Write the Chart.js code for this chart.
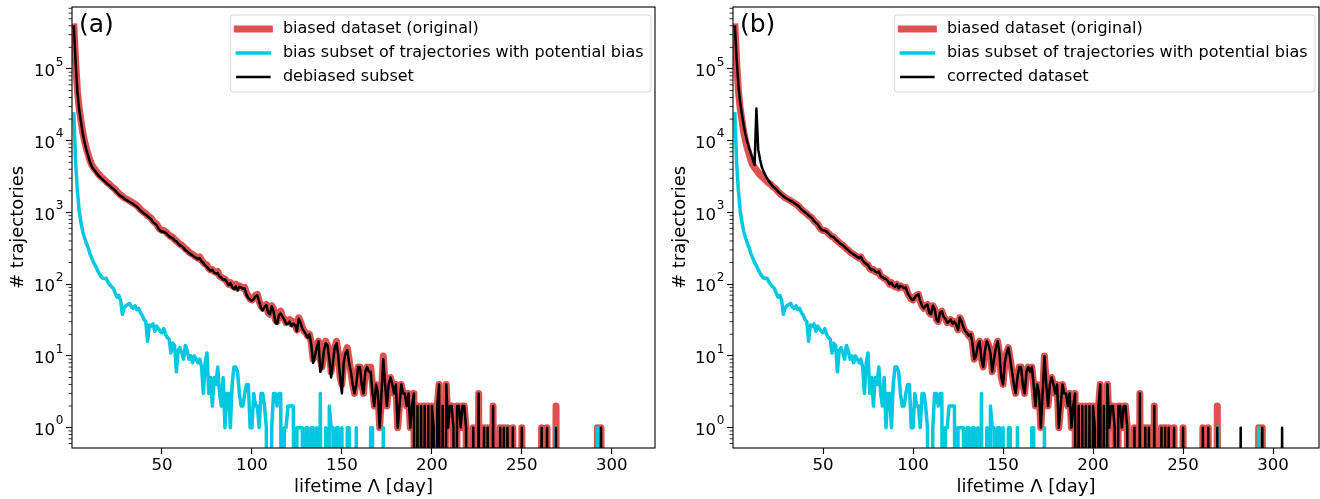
<!DOCTYPE html>
<html>
<head>
<meta charset="utf-8">
<script src="https://cdn.jsdelivr.net/npm/chart.js@4"></script>
<style>
  body { margin: 0; background: #fff; }
  #wrap { position: relative; width: 1320px; height: 499px; }
  canvas { position: absolute; top: 0; }
  #panelA { left: 0; }
  #panelB { left: 660px; }
</style>
</head>
<body>
<div id="wrap">
  <canvas id="panelA" width="660" height="499"></canvas>
  <canvas id="panelB" width="660" height="499"></canvas>
</div>
<script>
// trajectories per lifetime bin, day 1, 2, 3, ...
const biased = [
  430000, 130000, 50000, 28000, 19000, 13000, 9800, 7800, 6400, 5300,
  4600, 4200, 3900, 3600, 3350, 3150, 3000, 2850, 2700, 2550,
  2450, 2300, 2200, 2100, 1950, 1850, 1750, 1680, 1600, 1550,
  1500, 1450, 1400, 1350, 1300, 1250, 1180, 1100, 1050, 1000,
  960, 900, 870, 830, 760, 720, 690, 620, 580, 560,
  560, 540, 510, 480, 460, 450, 420, 400, 380, 360,
  350, 330, 310, 300, 280, 270, 260, 250, 240, 230,
  240, 215, 200, 190, 185, 165, 158, 160, 150, 145,
  150, 130, 125, 120, 118, 110, 100, 105, 95, 92,
  100, 88, 95, 92, 88, 90, 75, 68, 62, 60,
  65, 70, 72, 58, 50, 46, 50, 52, 40, 38,
  50, 45, 32, 30, 40, 42, 35, 33, 29, 30,
  32, 28, 30, 27, 23, 34, 30, 25, 22, 21,
  19, 20, 15, 9, 10, 14, 16, 9, 7, 12,
  16, 14, 11, 6, 9, 13, 16, 11, 5, 4,
  8, 11, 13, 9, 6, 4, 3, 5, 7, 7,
  4, 3, 6, 7, 6, 7, 4, 2, 4, 3,
  1, 3, 10, 4, 2, 4, 5, 4, 3, 4,
  1, 2, 4, 3, 3, 2, 3, 1, 2, 3,
  0, 2, 0, 2, 0, 2, 0, 2, 0, 2,
  1, 0, 2, 4, 0, 2, 0, 4, 1, 2,
  2, 1, 0, 2, 2, 1, 2, 2, 1, 0,
  0, 0, 1, 0, 0, 3, 0, 0, 1, 0,
  1, 0, 0, 2, 0, 0, 0, 1, 0, 1,
  0, 1, 0, 0, 1, 0, 0, 0, 0, 1,
  0, 0, 0, 0, 0, 0, 0, 0, 0, 0,
  1, 0, 0, 1, 0, 0, 0, 0, 2, 0,
  0, 0, 0, 0, 0, 0, 0, 0, 0, 0,
  0, 0, 0, 0, 0, 0, 0, 0, 0, 0,
  0, 1, 0, 1, 0
];

const biasSubset = [
  25000, 5000, 2000, 1050, 720, 540, 440, 370, 320, 265,
  230, 200, 180, 160, 142, 130, 122, 120, 121, 106,
  98, 92, 87, 75, 66, 70, 60, 38, 47, 50,
  52, 54, 48, 46, 50, 44, 46, 40, 37, 32,
  30, 16, 27, 26, 28, 22, 26, 24, 22, 21,
  24, 20, 18, 17, 11, 15, 14, 6, 12, 13,
  11, 9, 14, 12, 9, 10, 8, 10, 9, 8,
  9, 7, 3, 8, 11, 3, 5, 2, 5, 4,
  7, 3, 2, 5, 1, 3, 3, 1, 4, 7,
  7, 6, 3, 2, 2, 3, 4, 4, 1, 1,
  3, 2, 2, 1, 3, 3, 2, 1, 0, 0,
  1, 3, 3, 2, 3, 3, 0, 1, 1, 2,
  2, 2, 2, 0, 1, 1, 1, 1, 0, 1,
  1, 0, 1, 1, 0, 1, 0, 3, 0, 0,
  1, 0, 2, 1, 1, 0, 1, 1, 0, 1,
  0, 0, 1, 1, 0, 0, 0, 1, 0, 0,
  0, 0, 0, 0, 0, 1, 1, 0, 0, 0,
  0, 0, 1, 0, 0, 0, 0, 0, 0, 0,
  0, 0, 0, 0, 0, 0, 0, 0, 0, 0,
  0, 0, 0, 0, 0, 0, 0, 0, 0, 0,
  0, 0, 0, 0, 0, 0, 0, 0, 0, 0,
  0, 0, 0, 0, 0, 0, 0, 0, 0, 0,
  0, 0, 0, 0, 0, 0, 0, 0, 0, 0,
  0, 0, 0, 0, 0, 0, 0, 0, 0, 0,
  0, 0, 0, 0, 0, 0, 0, 0, 0, 0,
  0, 0, 0, 0, 0, 0, 0, 0, 0, 0,
  0, 0, 0, 0, 0, 0, 0, 0, 1, 0,
  0, 0, 0, 0, 0, 0, 0, 0, 0, 0,
  0, 0, 0, 0, 0, 0, 0, 0, 0, 0,
  0, 1, 0
];

const debiased = [
  405000, 125000, 48000, 26950, 18280, 12460, 9360, 7430, 6080, 5035,
  4370, 4000, 3720, 3440, 3208, 3020, 2878, 2730, 2579, 2444,
  2352, 2208, 2113, 2025, 1884, 1780, 1690, 1642, 1553, 1500,
  1448, 1396, 1352, 1304, 1250, 1206, 1134, 1060, 1013, 968,
  930, 884, 843, 804, 732, 698, 664, 596, 558, 539,
  536, 520, 492, 463, 449, 435, 406, 394, 368, 347,
  339, 321, 296, 288, 271, 260, 252, 240, 231, 222,
  231, 208, 197, 182, 174, 162, 153, 158, 145, 141,
  143, 127, 123, 115, 117, 107, 97, 104, 91, 85,
  93, 82, 92, 90, 86, 87, 71, 64, 61, 59,
  62, 68, 70, 57, 47, 43, 48, 51, 40, 38,
  49, 42, 29, 28, 37, 39, 35, 32, 28, 28,
  30, 26, 28, 27, 22, 33, 29, 24, 22, 20,
  18, 20, 14, 8, 10, 13, 16, 6, 7, 12,
  15, 14, 9, 5, 8, 13, 15, 10, 5, 3,
  8, 11, 12, 8, 6, 4, 3, 4, 7, 7,
  4, 3, 6, 7, 6, 6, 3, 2, 4, 3,
  1, 3, 9, 4, 2, 4, 5, 4, 3, 4,
  1, 2, 4, 3, 3, 2, 3, 1, 2, 3,
  0, 2, 0, 2, 0, 2, 0, 2, 0, 2,
  1, 0, 2, 4, 0, 2, 0, 4, 1, 2,
  2, 1, 0, 2, 2, 1, 2, 2, 1, 0,
  0, 0, 1, 0, 0, 3, 0, 0, 1, 0,
  1, 0, 0, 2, 0, 0, 0, 1, 0, 1,
  0, 1, 0, 0, 1, 0, 0, 0, 0, 1,
  0, 0, 0, 0, 0, 0, 0, 0, 0, 0,
  1, 0, 0, 1, 0, 0, 0, 0, 1, 0,
  0, 0, 0, 0, 0, 0, 0, 0, 0, 0,
  0, 0, 0, 0, 0, 0, 0, 0, 0, 0,
  0, 0, 0, 1, 0
];

const corrected = [
  405000, 140000, 60000, 34000, 23000, 16000, 12000, 9500, 7800, 6500,
  5500, 4600, 28000, 7500, 5500, 4300, 3700, 3300, 2950, 2700,
  2500, 2320, 2210, 2105, 1955, 1852, 1752, 1682, 1601, 1551,
  1500, 1450, 1400, 1350, 1300, 1250, 1180, 1100, 1050, 1000,
  960, 900, 870, 830, 760, 720, 690, 620, 580, 560,
  560, 540, 510, 480, 460, 450, 420, 400, 380, 360,
  350, 330, 310, 300, 280, 270, 260, 250, 240, 230,
  240, 215, 200, 190, 185, 165, 158, 160, 150, 145,
  150, 130, 125, 120, 118, 110, 100, 105, 95, 92,
  100, 88, 95, 92, 88, 90, 75, 68, 62, 60,
  65, 70, 72, 58, 50, 46, 50, 52, 40, 38,
  50, 45, 32, 30, 40, 42, 35, 33, 29, 30,
  32, 28, 30, 27, 23, 34, 30, 25, 22, 21,
  19, 20, 15, 9, 10, 14, 16, 9, 7, 12,
  16, 14, 11, 6, 9, 13, 16, 11, 5, 4,
  8, 11, 13, 9, 6, 4, 3, 5, 7, 7,
  4, 3, 6, 7, 6, 7, 4, 2, 4, 3,
  1, 3, 10, 4, 2, 4, 5, 4, 3, 4,
  1, 2, 4, 3, 3, 2, 3, 1, 2, 3,
  0, 2, 0, 2, 0, 2, 0, 2, 0, 2,
  1, 0, 2, 4, 0, 2, 0, 4, 1, 2,
  2, 1, 0, 2, 2, 1, 2, 2, 1, 0,
  0, 0, 1, 0, 0, 3, 0, 0, 1, 0,
  1, 0, 0, 2, 0, 0, 0, 1, 0, 1,
  0, 1, 0, 0, 1, 0, 0, 0, 0, 1,
  0, 0, 0, 0, 0, 0, 0, 0, 0, 0,
  1, 0, 0, 1, 0, 0, 0, 0, 1, 0,
  0, 0, 0, 0, 0, 0, 0, 0, 0, 0,
  0, 1, 0, 0, 0, 0, 0, 0, 0, 0,
  0, 0, 0, 1, 0, 0, 0, 0, 0, 0,
  0, 0, 0, 0, 1, 0
];

const labelsA = ['biased dataset (original)', 'bias subset of trajectories with potential bias', 'debiased subset'];
const labelsB = ['biased dataset (original)', 'bias subset of trajectories with potential bias', 'corrected dataset'];

const xTicks = [50, 100, 150, 200, 250, 300];
const yTicks = [1, 10, 100, 1000, 10000, 100000];
const yTickBase = '10';
const yTickExponents = ['0', '1', '2', '3', '4', '5'];

const Y_MIN = 0.52;
const Y_MAX = 7.3e5;
// empty bins fall off the bottom of the log axis (like matplotlib's clipping)
const CLIP_FLOOR = 1e-6;

const RED = '#df5151';
const CYAN = '#00c8e0';
const BLACK = '#000000';
const FONT = '"DejaVu Sans", sans-serif';
const TICK_SIZE = 16.6;
const TITLE_SIZE = 18;

Chart.defaults.font.family = FONT;
Chart.defaults.color = '#000';

function toPoints(counts) {
  return counts.map((c, i) => ({ x: i + 1, y: c > 0 ? c : CLIP_FLOOR }));
}

// minor tick positions of the log axis
const yMinor = [];
for (let e = -1; e <= 5; e++) {
  for (let m = 2; m <= 9; m++) {
    const v = m * Math.pow(10, e);
    if (v > Y_MIN && v < Y_MAX) yMinor.push(v);
  }
}

const panelDecor = {
  id: 'panelDecor',
  afterDatasetsDraw(chart, args, opts) {
    const { ctx, chartArea: a } = chart;
    const y = chart.scales.y;
    ctx.save();

    // minor ticks
    ctx.strokeStyle = '#000';
    ctx.lineWidth = 0.8;
    y.ticks.forEach(t => {
      if (t.major) return;
      const py = y.getPixelForValue(t.value);
      ctx.beginPath();
      ctx.moveTo(a.left - 3.5, py);
      ctx.lineTo(a.left, py);
      ctx.stroke();
    });

    // y tick labels as 10 with a raised exponent
    ctx.fillStyle = '#000';
    ctx.textAlign = 'right';
    ctx.textBaseline = 'alphabetic';
    yTicks.forEach((v, k) => {
      const py = y.getPixelForValue(v);
      const xr = a.left - 8.7;
      ctx.font = '12px ' + FONT;
      const ew = ctx.measureText(yTickExponents[k]).width;
      ctx.fillText(yTickExponents[k], xr, py - 3.3);
      ctx.font = TICK_SIZE + 'px ' + FONT;
      ctx.fillText(yTickBase, xr - ew - 0.5, py + 7.2);
    });

    // frame
    ctx.lineWidth = 1.1;
    ctx.strokeRect(a.left, a.top, a.right - a.left, a.bottom - a.top);

    // panel letter
    ctx.font = '25px ' + FONT;
    ctx.textAlign = 'left';
    ctx.fillText(opts.tag, a.left + 7, a.top + 25);

    // legend (upper right, inside the axes)
    const sets = chart.data.datasets;
    ctx.font = '16px ' + FONT;
    const textW = Math.max(...sets.map(d => ctx.measureText(d.label).width));
    const boxW = 52.6 + textW + 7.4;
    const boxH = 77;
    const right = a.right - 4;
    const left = right - boxW;
    const top = a.top + 8;
    ctx.beginPath();
    ctx.roundRect(left, top, boxW, boxH, 3);
    ctx.fillStyle = 'rgba(255,255,255,0.8)';
    ctx.fill();
    ctx.strokeStyle = '#d6d6d6';
    ctx.lineWidth = 1;
    ctx.stroke();
    sets.forEach((d, k) => {
      const cy = top + 14 + 24 * k;
      ctx.beginPath();
      ctx.strokeStyle = d.borderColor;
      ctx.lineWidth = d.borderWidth;
      ctx.lineCap = 'square';
      ctx.moveTo(left + 7, cy);
      ctx.lineTo(left + 39, cy);
      ctx.stroke();
      ctx.fillStyle = '#000';
      ctx.textBaseline = 'middle';
      ctx.fillText(d.label, left + 52.6, cy);
    });

    ctx.restore();
  }
};

function makePanel(id, cfg) {
  return new Chart(document.getElementById(id), {
    type: 'line',
    data: {
      datasets: [
        { label: cfg.labels[0], data: toPoints(biased), borderColor: RED, borderWidth: 7, order: 3, clip: 0 },
        { label: cfg.labels[1], data: toPoints(biasSubset), borderColor: CYAN, borderWidth: 3.5, order: 2, clip: 0 },
        { label: cfg.labels[2], data: toPoints(cfg.third), borderColor: BLACK, borderWidth: 2.5, order: 1, clip: 0 }
      ]
    },
    options: {
      responsive: false,
      animation: false,
      devicePixelRatio: 1,
      elements: {
        point: { radius: 0 },
        line: { tension: 0, borderJoinStyle: 'round', fill: false }
      },
      layout: { padding: { left: 0, right: cfg.padRight, top: 7, bottom: 0 } },
      plugins: {
        legend: { display: false },
        tooltip: { enabled: false },
        panelDecor: { tag: cfg.tag }
      },
      scales: {
        x: {
          type: 'linear',
          min: 0,
          max: cfg.xMax,
          afterBuildTicks: s => { s.ticks = xTicks.map(v => ({ value: v, major: true })); },
          afterFit: s => { s.height = 51; s.paddingLeft = 0; s.paddingRight = 0; },
          ticks: { autoSkip: false, maxRotation: 0, padding: 2, font: { size: TICK_SIZE }, color: '#000', callback: v => String(v) },
          grid: { display: true, drawOnChartArea: false, drawTicks: true, tickLength: 6, tickWidth: 1.1, tickColor: '#000' },
          border: { display: false },
          title: { display: true, text: 'lifetime Λ [day]', font: { size: TITLE_SIZE }, color: '#000', padding: { top: 0, bottom: 1.2 } }
        },
        y: {
          type: 'logarithmic',
          min: Y_MIN,
          max: Y_MAX,
          afterBuildTicks: s => {
            s.ticks = yTicks.map(v => ({ value: v, major: true }))
              .concat(yMinor.map(v => ({ value: v, major: false })))
              .sort((p, q) => p.value - q.value);
          },
          afterFit: s => { s.width = cfg.yWidth; s.paddingTop = 0; s.paddingBottom = 0; },
          // labels are drawn by panelDecor (base + superscript)
          ticks: { autoSkip: false, padding: 3, font: { size: TICK_SIZE }, callback: () => '' },
          grid: {
            display: true, drawOnChartArea: false, drawTicks: true, tickLength: 6, tickWidth: 1.1,
            tickColor: c => (c.tick && c.tick.major) ? '#000' : 'rgba(0,0,0,0)'
          },
          border: { display: false },
          title: { display: true, text: '# trajectories', font: { size: TITLE_SIZE }, color: '#000', padding: { top: cfg.yTitlePad, bottom: 0 } }
        }
      }
    },
    plugins: [panelDecor]
  });
}

makePanel('panelA', { tag: '(a)', labels: labelsA, third: debiased, xMax: 324, padRight: 5, yWidth: 72, yTitlePad: 7.2 });
makePanel('panelB', { tag: '(b)', labels: labelsB, third: corrected, xMax: 325.5, padRight: 1, yWidth: 73, yTitlePad: 9.2 });
</script>
</body>
</html>
